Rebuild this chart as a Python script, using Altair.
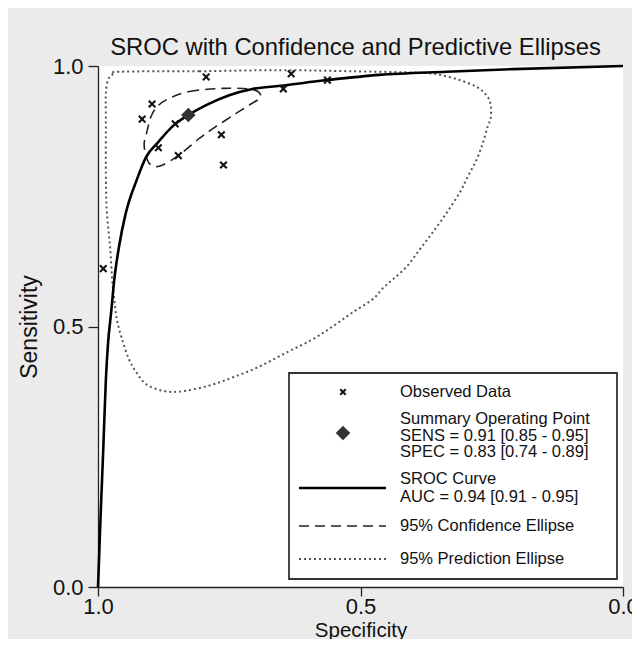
import altair as alt
import pandas as pd

# ---- data ----
obs_spec = [0.990, 0.916, 0.897, 0.885, 0.853, 0.847, 0.794, 0.765, 0.761, 0.647, 0.632, 0.563]
obs_sens = [0.611, 0.898, 0.927, 0.843, 0.889, 0.828, 0.979, 0.868, 0.810, 0.956, 0.985, 0.973]

summary_spec = [0.828]
summary_sens = [0.906]

sroc_spec = [1.000, 0.998, 0.996, 0.994, 0.990, 0.985, 0.981, 0.975, 0.969, 0.960, 0.947, 0.926,
             0.908, 0.887, 0.855, 0.828, 0.794, 0.750, 0.706, 0.653, 0.563, 0.464, 0.336, 0.210, 0.000]
sroc_sens = [0.000, 0.054, 0.111, 0.163, 0.264, 0.398, 0.466, 0.527, 0.590, 0.653, 0.718, 0.782,
             0.826, 0.852, 0.887, 0.906, 0.925, 0.944, 0.956, 0.962, 0.973, 0.983, 0.989, 0.994, 1.000]

conf_spec = [0.868, 0.826, 0.763, 0.706, 0.690, 0.712, 0.737, 0.775, 0.807, 0.847, 0.877, 0.890,
             0.903, 0.910, 0.912, 0.908, 0.899, 0.887]
conf_sens = [0.936, 0.951, 0.957, 0.955, 0.941, 0.925, 0.909, 0.884, 0.861, 0.828, 0.810, 0.807,
             0.814, 0.833, 0.852, 0.869, 0.903, 0.922]

pred_spec = [0.960, 0.807, 0.655, 0.521, 0.387, 0.349, 0.311, 0.279, 0.260, 0.252, 0.252, 0.258,
             0.267, 0.279, 0.296, 0.311, 0.336, 0.363, 0.387, 0.412, 0.439, 0.460, 0.477, 0.515,
             0.553, 0.592, 0.641, 0.693, 0.744, 0.794, 0.845, 0.878, 0.908, 0.927, 0.941, 0.954,
             0.964, 0.969, 0.973, 0.977, 0.983, 0.985, 0.985, 0.985, 0.981, 0.973]
pred_sens = [0.989, 0.990, 0.992, 0.990, 0.987, 0.983, 0.973, 0.960, 0.944, 0.925, 0.900, 0.883,
             0.852, 0.820, 0.787, 0.757, 0.718, 0.680, 0.648, 0.615, 0.590, 0.571, 0.552, 0.527,
             0.500, 0.475, 0.450, 0.423, 0.402, 0.385, 0.375, 0.377, 0.389, 0.412, 0.437, 0.475,
             0.513, 0.552, 0.590, 0.653, 0.718, 0.782, 0.897, 0.948, 0.973, 0.983]

title_text = "SROC with Confidence and Predictive Ellipses"
x_title = "Specificity"
y_title = "Sensitivity"
tick_values = [1.0, 0.5, 0.0]

legend_observed = "Observed Data"
legend_summary = ["Summary Operating Point", "SENS = 0.91 [0.85 - 0.95]", "SPEC = 0.83 [0.74 - 0.89]"]
legend_sroc = ["SROC Curve", "AUC = 0.94 [0.91 - 0.95]"]
legend_conf = "95% Confidence Ellipse"
legend_pred = "95% Prediction Ellipse"

FONT = "Liberation Sans"
XMARK = "M-1,-1L1,1M-1,1L1,-1"
DOT_COLOR = "#555555"

obs_df = pd.DataFrame({"spec": obs_spec, "sens": obs_sens})
sum_df = pd.DataFrame({"spec": summary_spec, "sens": summary_sens})
sroc_df = pd.DataFrame({"spec": sroc_spec, "sens": sroc_sens, "i": range(len(sroc_spec))})
conf_df = pd.DataFrame({"spec": conf_spec, "sens": conf_sens, "i": range(len(conf_spec))})
pred_df = pd.DataFrame({"spec": pred_spec, "sens": pred_sens, "i": range(len(pred_spec))})

xenc = alt.X("spec:Q", scale=alt.Scale(domain=[1, 0], nice=False),
             axis=alt.Axis(values=tick_values, format=".1f", title=x_title, tickSize=9,
                           labelPadding=0, titleBaseline="alphabetic", titleY=49, titleFontSize=20.5))
yenc = alt.Y("sens:Q", scale=alt.Scale(domain=[0, 1], nice=False),
             axis=alt.Axis(values=tick_values, format=".1f", title=y_title,
                           labelPadding=5, titlePadding=11))

pred = alt.Chart(pred_df).mark_line(
    interpolate="cardinal-closed", color=DOT_COLOR, strokeWidth=2, strokeDash=[2, 3], strokeCap="butt"
).encode(x=xenc, y=yenc, order=alt.Order("i:Q"))

conf = alt.Chart(conf_df).mark_line(
    interpolate="cardinal-closed", color="#222", strokeWidth=1.6, strokeDash=[10, 6]
).encode(x=xenc, y=yenc, order=alt.Order("i:Q"))

sroc = alt.Chart(sroc_df).mark_line(
    interpolate="monotone", color="black", strokeWidth=2.6
).encode(x=xenc, y=yenc, order=alt.Order("i:Q"))

obs = alt.Chart(obs_df).mark_point(
    shape=XMARK, size=44, stroke="#111", strokeWidth=2.1, filled=False, opacity=1
).encode(x=xenc, y=yenc)

summ = alt.Chart(sum_df).mark_point(
    shape="diamond", size=210, filled=True, color="#333", opacity=1
).encode(x=xenc, y=yenc)

one = alt.Data(values=[{"k": 0}])

def ltext(txt, y):
    return alt.Chart(one).mark_text(
        align="left", baseline="middle", fontSize=16.5, font=FONT, color="#111"
    ).encode(x=alt.value(302), y=alt.value(y), text=alt.value(txt))

legend_box = alt.Chart(one).mark_rect(fill="white", stroke="#333", strokeWidth=1.8).encode(
    x=alt.value(191), x2=alt.value(519), y=alt.value(307), y2=alt.value(513))
leg_x = alt.Chart(one).mark_point(shape=XMARK, size=30, stroke="#111", strokeWidth=2,
                                  filled=False, opacity=1).encode(x=alt.value(245), y=alt.value(326))
leg_d = alt.Chart(one).mark_point(shape="diamond", size=210, filled=True, color="#333",
                                  opacity=1).encode(x=alt.value(245), y=alt.value(367))
leg_solid = alt.Chart(one).mark_rule(color="black", strokeWidth=2.6).encode(
    x=alt.value(201), x2=alt.value(288), y=alt.value(422))
leg_dash = alt.Chart(one).mark_rule(color="#222", strokeWidth=1.6, strokeDash=[10, 6]).encode(
    x=alt.value(201), x2=alt.value(288), y=alt.value(460))
leg_dot = alt.Chart(one).mark_rule(color=DOT_COLOR, strokeWidth=2, strokeDash=[2, 3], strokeCap="butt").encode(
    x=alt.value(201), x2=alt.value(288), y=alt.value(493))

layers = [pred, conf, sroc, obs, summ, legend_box, leg_x, leg_d, leg_solid, leg_dash, leg_dot,
          ltext(legend_observed, 326),
          ltext(legend_summary[0], 353), ltext(legend_summary[1], 369.5), ltext(legend_summary[2], 386),
          ltext(legend_sroc[0], 413), ltext(legend_sroc[1], 431),
          ltext(legend_conf, 460), ltext(legend_pred, 493)]

chart = alt.layer(*layers).properties(
    width=525, height=521,
    title=alt.TitleParams(text=title_text, fontSize=23.8, font=FONT, fontWeight="normal",
                          color="#111", anchor="middle", offset=-5, dx=-5),
    autosize=alt.AutoSizeParams(type="none"),
    padding={"left": 90, "top": 58, "right": 9, "bottom": 52},
    background="#ebebeb",
).configure_view(fill="white", strokeWidth=0).configure_axis(
    grid=False, domainColor="#222", domainWidth=1.3, tickColor="#222", tickWidth=1.3, tickSize=10,
    labelFont=FONT, labelFontSize=22, labelColor="#111",
    titleFont=FONT, titleFontSize=23, titleFontWeight="normal", titleColor="#111",
    labelFlush=False, labelOverlap=False
)

chart.save("out.html", embed_options={"renderer": "svg", "actions": False})
